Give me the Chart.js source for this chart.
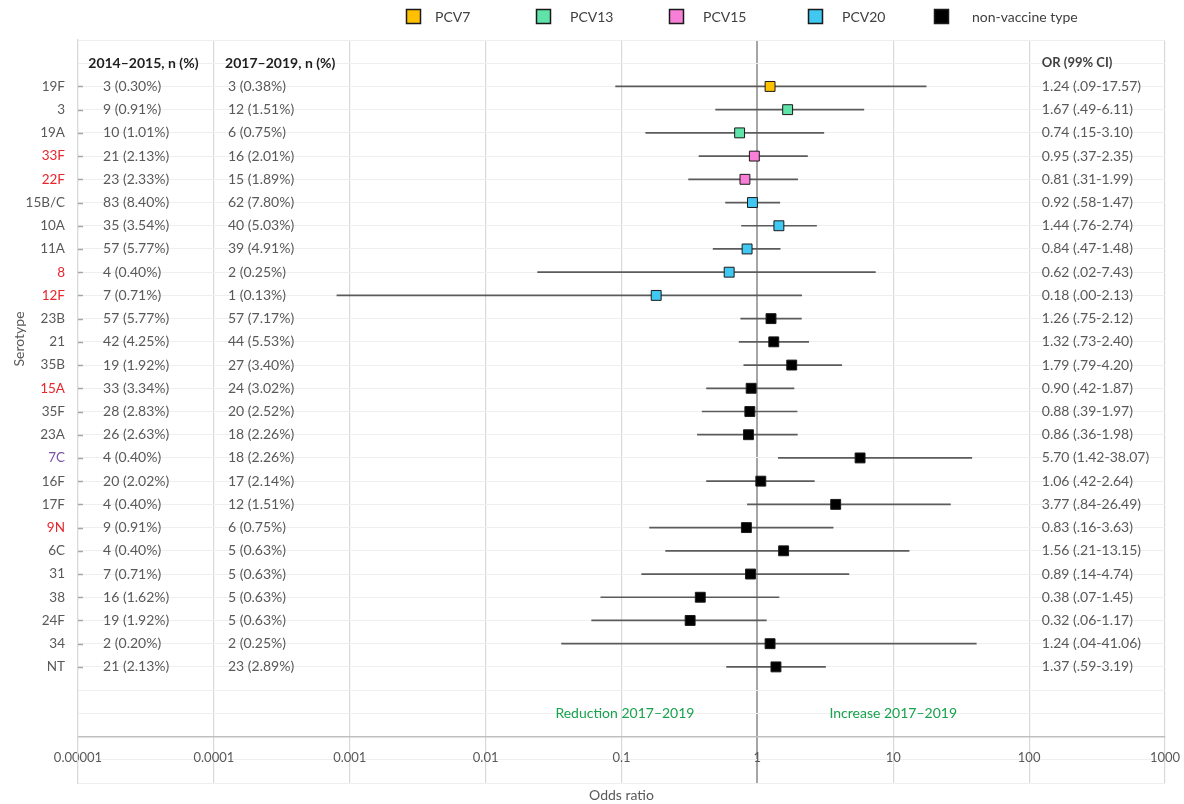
<!DOCTYPE html>
<html><head><meta charset="utf-8">
<script src="https://cdn.jsdelivr.net/npm/chart.js@4.4.1/dist/chart.umd.min.js"></script>
<style>html,body{margin:0;padding:0;background:#fff}#wrap{width:1184px;height:804px;position:relative}</style>
</head><body><div id="wrap"><canvas id="c" width="1184" height="804"></canvas></div>
<script>
// ---------- data ----------
const serotypes = ['19F','3','19A','33F','22F','15B/C','10A','11A','8','12F','23B','21','35B','15A','35F','23A','7C','16F','17F','9N','6C','31','38','24F','34','NT'];
const serotypeLabelColors = ['#595959','#595959','#595959','#e8262d','#e8262d','#595959','#595959','#595959','#e8262d','#e8262d','#595959','#595959','#595959','#e8262d','#595959','#595959','#7a52a6','#595959','#595959','#e8262d','#595959','#595959','#595959','#595959','#595959','#595959'];
const vaccineGroup = ['PCV7','PCV13','PCV13','PCV15','PCV15','PCV20','PCV20','PCV20','PCV20','PCV20','NVT','NVT','NVT','NVT','NVT','NVT','NVT','NVT','NVT','NVT','NVT','NVT','NVT','NVT','NVT','NVT'];
const n2014 = ['3 (0.30%)','9 (0.91%)','10 (1.01%)','21 (2.13%)','23 (2.33%)','83 (8.40%)','35 (3.54%)','57 (5.77%)','4 (0.40%)','7 (0.71%)','57 (5.77%)','42 (4.25%)','19 (1.92%)','33 (3.34%)','28 (2.83%)','26 (2.63%)','4 (0.40%)','20 (2.02%)','4 (0.40%)','9 (0.91%)','4 (0.40%)','7 (0.71%)','16 (1.62%)','19 (1.92%)','2 (0.20%)','21 (2.13%)'];
const n2017 = ['3 (0.38%)','12 (1.51%)','6 (0.75%)','16 (2.01%)','15 (1.89%)','62 (7.80%)','40 (5.03%)','39 (4.91%)','2 (0.25%)','1 (0.13%)','57 (7.17%)','44 (5.53%)','27 (3.40%)','24 (3.02%)','20 (2.52%)','18 (2.26%)','18 (2.26%)','17 (2.14%)','12 (1.51%)','6 (0.75%)','5 (0.63%)','5 (0.63%)','5 (0.63%)','5 (0.63%)','2 (0.25%)','23 (2.89%)'];
const orValue = [1.24,1.67,0.74,0.95,0.81,0.92,1.44,0.84,0.62,0.18,1.26,1.32,1.79,0.90,0.88,0.86,5.70,1.06,3.77,0.83,1.56,0.89,0.38,0.32,1.24,1.37];
const ciLow  = [0.09,0.49,0.15,0.37,0.31,0.58,0.76,0.47,0.024,0.0008,0.75,0.73,0.79,0.42,0.39,0.36,1.42,0.42,0.84,0.16,0.21,0.14,0.07,0.06,0.036,0.59];
const ciHigh = [17.57,6.11,3.10,2.35,1.99,1.47,2.74,1.48,7.43,2.13,2.12,2.40,4.20,1.87,1.97,1.98,38.07,2.64,26.49,3.63,13.15,4.74,1.45,1.17,41.06,3.19];
const orText = ['1.24 (.09-17.57)','1.67 (.49-6.11)','0.74 (.15-3.10)','0.95 (.37-2.35)','0.81 (.31-1.99)','0.92 (.58-1.47)','1.44 (.76-2.74)','0.84 (.47-1.48)','0.62 (.02-7.43)','0.18 (.00-2.13)','1.26 (.75-2.12)','1.32 (.73-2.40)','1.79 (.79-4.20)','0.90 (.42-1.87)','0.88 (.39-1.97)','0.86 (.36-1.98)','5.70 (1.42-38.07)','1.06 (.42-2.64)','3.77 (.84-26.49)','0.83 (.16-3.63)','1.56 (.21-13.15)','0.89 (.14-4.74)','0.38 (.07-1.45)','0.32 (.06-1.17)','1.24 (.04-41.06)','1.37 (.59-3.19)'];
const groupKeys = ['PCV7','PCV13','PCV15','PCV20','NVT'];
const groupNames = ['PCV7','PCV13','PCV15','PCV20','non-vaccine type'];
const groupColors = ['#ffc000','#5fe3a8','#f77fd8','#40c8f2','#000000'];
const xTickValues = [0.00001,0.0001,0.001,0.01,0.1,1,10,100,1000];
const xTickLabels = ['0.00001','0.0001','0.001','0.01','0.1','1','10','100','1000'];
const columnHeaders = ['2014–2015, n (%)','2017–2019, n (%)','OR (99% CI)'];
const reductionLabel = 'Reduction 2017–2019';
const increaseLabel = 'Increase 2017–2019';
const xTitle = 'Odds ratio';
const yTitle = 'Serotype';

// ---------- build ----------
const FONT = 'Lato, "Open Sans", sans-serif';
Chart.defaults.font.family = FONT;
const nRows = serotypes.length;
const rowValue = i => nRows - i;          // 26 ... 1
const headerRow = nRows + 1;              // 27

const ciSets = serotypes.map((s, i) => ({
  label: 'ci-' + s,
  data: [{x: ciLow[i], y: rowValue(i)}, {x: ciHigh[i], y: rowValue(i)}],
  showLine: true, borderColor: '#5b5b5b', borderWidth: 1.7,
  pointRadius: 0, pointHoverRadius: 0, order: 2
}));
const pointSets = groupKeys.map((g, gi) => ({
  label: groupNames[gi],
  data: serotypes.map((s, i) => vaccineGroup[i] === g ? {x: orValue[i], y: rowValue(i)} : null).filter(Boolean),
  pointStyle: 'rect', pointRadius: 7, pointHoverRadius: 7,
  backgroundColor: groupColors[gi], borderColor: '#1a1a1a', borderWidth: 1,
  showLine: false, order: 1
}));

const overlay = {
  id: 'overlay',
  afterDraw(chart) {
    const ctx = chart.ctx, xs = chart.scales.x, ys = chart.scales.y, ca = chart.chartArea;
    ctx.save();
    // inside tick marks on y axis
    ctx.strokeStyle = '#a6a6a6'; ctx.lineWidth = 1.5;
    serotypes.forEach((s, i) => {
      const y = Math.round(ys.getPixelForValue(rowValue(i))) + 0.5;
      ctx.beginPath(); ctx.moveTo(ca.left, y); ctx.lineTo(ca.left + 5, y); ctx.stroke();
    });
    ctx.textBaseline = 'middle'; ctx.textAlign = 'left';
    // column headers
    const yh = ys.getPixelForValue(headerRow);
    ctx.font = 'bold 14px ' + FONT; ctx.fillStyle = '#1e1e1e';
    ctx.fillText(columnHeaders[0], xs.getPixelForValue(1.19e-5), yh);
    ctx.fillText(columnHeaders[1], xs.getPixelForValue(1.21e-4), yh);
    ctx.font = 'bold 13px ' + FONT; ctx.fillStyle = '#404040';
    ctx.fillText(columnHeaders[2], xs.getPixelForValue(1.24e2), yh);
    // column values
    ctx.font = '14px ' + FONT; ctx.fillStyle = '#595959';
    serotypes.forEach((s, i) => {
      const y = ys.getPixelForValue(rowValue(i));
      ctx.fillText(n2014[i], xs.getPixelForValue(1.53e-5), y);
      ctx.fillText(n2017[i], xs.getPixelForValue(1.27e-4), y);
      ctx.fillText(orText[i], xs.getPixelForValue(1.24e2), y);
    });
    // reduction / increase
    ctx.textAlign = 'center'; ctx.fillStyle = '#17a24d'; ctx.font = '14px ' + FONT;
    ctx.fillText(reductionLabel, xs.getPixelForValue(0.106), ys.getPixelForValue(-1));
    ctx.fillText(increaseLabel, xs.getPixelForValue(10), ys.getPixelForValue(-1));
    // axis titles
    ctx.fillStyle = '#595959'; ctx.font = '14px ' + FONT;
    ctx.fillText(xTitle, (ca.left + ca.right) / 2, 795);
    ctx.save(); ctx.translate(19, 339); ctx.rotate(-Math.PI / 2);
    ctx.fillText(yTitle, 0, 0); ctx.restore();
    // legend
    const sqX = [406, 536, 669, 808, 934], txX = [435, 570, 703, 842, 972];
    groupNames.forEach((g, gi) => {
      ctx.fillStyle = groupColors[gi];
      ctx.fillRect(sqX[gi], 9, 15, 15);
      ctx.strokeStyle = '#1a1a1a'; ctx.lineWidth = 1.5;
      ctx.strokeRect(sqX[gi] + 0.5, 9.5, 14, 14);
      ctx.fillStyle = '#404040'; ctx.textAlign = 'left'; ctx.font = '14px ' + FONT;
      ctx.fillText(g, txX[gi], 17);
    });
    ctx.restore();
  }
};

new Chart(document.getElementById('c'), {
  type: 'scatter',
  data: { datasets: [...pointSets, ...ciSets] },
  options: {
    responsive: false, animation: false, events: [],
    layout: { padding: { left: 0, right: 19, top: 40, bottom: 21 } },
    plugins: { legend: { display: false }, tooltip: { enabled: false } },
    scales: {
      x: {
        type: 'logarithmic', min: 1e-5, max: 1000,
        position: { y: -2 },
        afterBuildTicks: s => { s.ticks = xTickValues.map(v => ({ value: v })); },
        afterFit: s => { s.height = 0; s.paddingLeft = 0; s.paddingRight = 0; },
        ticks: { callback: (v, i) => xTickLabels[i], color: '#595959', font: { size: 13 }, padding: 13, maxRotation: 0, autoSkip: false },
        grid: {
          drawTicks: false,
          color: c => (c.tick && c.tick.value === 1) ? '#a6a6a6' : '#d9d9d9',
          lineWidth: c => (c.tick && c.tick.value === 1) ? 2 : 1.2
        },
        border: { display: true, color: '#bfbfbf', width: 1.5 }
      },
      y: {
        type: 'linear', min: -4, max: 28,
        afterFit: s => { s.width = 78; s.paddingTop = 0; s.paddingBottom = 0; },
        ticks: {
          stepSize: 1, autoSkip: false, padding: 13,
          callback: v => (v >= 1 && v <= nRows) ? serotypes[nRows - v] : '',
          color: c => (c.tick && c.tick.value >= 1 && c.tick.value <= nRows) ? serotypeLabelColors[nRows - c.tick.value] : '#595959',
          font: { size: 13.5 }
        },
        grid: { drawTicks: false, color: c => (c.tick && c.tick.value === -2) ? 'rgba(0,0,0,0)' : '#efefef', lineWidth: 1 },
        border: { display: true, color: '#d9d9d9', width: 1.2 }
      }
    }
  },
  plugins: [overlay]
});
</script></body></html>
